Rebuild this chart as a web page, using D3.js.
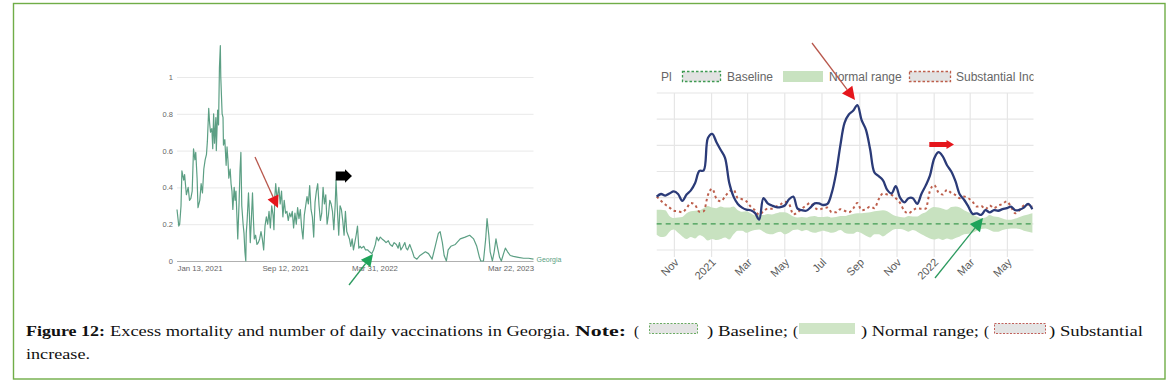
<!DOCTYPE html>
<html><head><meta charset="utf-8">
<script src="https://cdn.jsdelivr.net/npm/d3@7"></script>
<style>body{margin:0;background:#fff}svg{display:block}</style>
</head><body>
<svg id="c" width="1169" height="385"></svg>
<script>
// ---------- Left panel: daily vaccinations (per 100 people), Georgia ----------
const vacStart = "2021-01-13";
const vacEnd = "2023-03-22";
const vacDays = [0,4,6,9,11,15,17,21,25,28,31,34,37,40,42,45,47,51,54,57,60,63,66,68,71,73,75,78,80,82,84,87,88,91,93,95,97,98,101,103,104,107,110,112,114,116,119,121,123,125,128,130,132,134,136,139,141,143,145,148,150,152,154,155,157,160,162,164,166,169,171,173,176,179,182,185,188,191,194,197,200,203,206,209,212,215,217,219,221,224,226,228,231,234,237,240,243,246,249,252,255,258,261,264,267,270,273,276,279,282,285,288,291,294,297,300,303,306,309,312,315,318,321,324,327,330,333,336,339,342,345,348,351,354,356,359,362,365,368,371,374,377,380,383,386,389,392,395,398,401,404,407,410,413,418,422,427,431,436,440,444,447,451,455,459,464,468,473,477,482,486,491,495,498,501,506,510,513,516,521,524,527,531,537,544,556,563,571,578,585,589,594,598,603,607,613,623,634,645,655,664,671,677,680,686,691,694,698,701,706,710,714,717,722,726,731,735,740,746,753,764,776,787,798];
const vacValues = [0.28,0.19,0.20,0.30,0.49,0.44,0.47,0.36,0.40,0.33,0.34,0.38,0.61,0.55,0.59,0.45,0.29,0.33,0.42,0.37,0.50,0.55,0.58,0.65,0.83,0.75,0.70,0.72,0.61,0.80,0.64,0.78,0.60,0.82,0.74,1.05,1.17,1.00,0.80,0.78,0.63,0.66,0.52,0.62,0.55,0.45,0.50,0.42,0.38,0.28,0.40,0.33,0.38,0.25,0.12,0.32,0.49,0.59,0.30,0.20,0.15,0.05,0.00,0.15,0.22,0.37,0.26,0.10,0.20,0.37,0.23,0.12,0.14,0.09,0.10,0.12,0.16,0.12,0.06,0.19,0.24,0.20,0.27,0.18,0.30,0.25,0.17,0.35,0.42,0.33,0.37,0.40,0.31,0.38,0.24,0.33,0.26,0.27,0.22,0.26,0.24,0.27,0.18,0.26,0.20,0.29,0.23,0.28,0.18,0.12,0.25,0.30,0.35,0.31,0.41,0.28,0.24,0.13,0.32,0.38,0.42,0.30,0.22,0.26,0.40,0.31,0.36,0.20,0.25,0.33,0.31,0.27,0.17,0.30,0.44,0.28,0.14,0.30,0.28,0.22,0.14,0.27,0.16,0.14,0.12,0.08,0.12,0.06,0.10,0.14,0.19,0.07,0.08,0.07,0.08,0.06,0.06,0.05,0.04,0.06,0.09,0.13,0.11,0.13,0.12,0.11,0.10,0.11,0.09,0.08,0.10,0.09,0.07,0.10,0.06,0.08,0.10,0.07,0.06,0.09,0.07,0.05,0.02,0.01,0.03,0.05,0.04,0.01,0.08,0.15,0.16,0.10,0.03,0.00,0.06,0.08,0.09,0.12,0.13,0.14,0.12,0.08,0.02,0.00,0.00,0.12,0.23,0.14,0.05,0.00,0.05,0.12,0.08,0.02,0.00,0.04,0.07,0.05,0.03,0.025,0.02,0.015,0.015,0.01];
const vacYTicks = [0, 0.2, 0.4, 0.6, 0.8, 1];
const vacXTicks = ["2021-01-13", "2021-09-12", "2022-03-31", "2023-03-22"];
const vacXLabels = ["Jan 13, 2021", "Sep 12, 2021", "Mar 31, 2022", "Mar 22, 2023"];
const vacSeriesName = "Georgia";

// ---------- Right panel: weekly excess mortality (z-score style) ----------
const weekStart = "2020-10-03";
const mortality = [5.2,5.7,5.4,5.8,6.2,5.7,4.4,5.6,6.4,7.8,
10.1,10.2,16.4,17.2,15.6,14.1,12.6,7.8,5.2,3.8,
3.1,2.7,2.6,2.1,0.8,4.9,3.9,3.5,3.2,3.2,
3.5,4.7,5.2,2.9,2.6,2.5,3.1,3.9,3.9,3.6,
3.8,5.9,9.6,14.9,19.3,20.9,21.6,22.7,19.8,18.0,
14.2,9.8,9.1,8.3,6.5,5.8,7.2,5.0,4.1,4.9,
4.9,3.8,5.7,7.3,9.2,12.5,13.7,12.9,11.2,10.0,
8.1,5.6,4.6,3.3,1.9,2.0,1.7,2.6,2.2,2.6,
2.5,2.8,3.0,3.3,2.6,2.7,3.1,3.8,2.8];
const substantialIncrease = [5.2,4.4,3.7,3.1,2.5,2.4,2.2,3.0,4.0,3.6,
2.3,2.4,5.5,6.7,4.8,4.3,5.2,6.2,6.5,4.9,
4.7,4.3,3.3,2.6,1.7,2.4,2.9,2.9,3.3,3.7,
4.2,3.8,1.8,2.2,2.9,3.5,4.0,3.1,2.7,3.0,
3.1,2.2,2.2,2.8,2.5,2.2,2.9,4.0,2.6,2.8,
3.3,3.0,4.7,5.8,5.6,5.5,4.9,4.0,2.5,2.0,
2.6,3.0,2.9,2.9,6.3,7.4,6.0,5.6,6.5,5.9,
5.5,4.9,5.2,4.9,4.2,3.3,3.4,2.8,3.5,3.0,
3.5,3.8,4.3,3.2,2.0,2.6,3.5,3.7,3.3];
const normalUpper = [2.7,2.7,2.6,1.5,1.1,1.2,1.3,2.0,2.4,2.5,
2.6,3.0,3.4,3.1,3.0,3.3,3.1,3.1,3.3,2.6,
2.3,2.4,2.0,1.6,1.7,1.7,1.9,1.8,2.0,2.2,
2.2,1.9,1.4,1.2,1.3,1.2,1.4,1.5,1.3,1.3,
1.4,1.2,1.3,1.5,1.5,1.7,1.9,2.0,2.0,2.1,
2.2,2.4,2.5,2.6,2.4,1.9,1.5,1.3,1.2,1.5,
1.4,1.4,1.9,2.2,2.9,3.2,3.1,2.9,2.7,3.2,
3.3,3.1,2.6,2.2,1.8,1.4,1.1,1.2,1.7,1.4,
1.3,1.0,0.8,0.8,1.0,1.3,1.6,1.8,2.0];
const normalLower = [-2.1,-2.5,-2.4,-1.5,-1.1,-1.7,-2.4,-2.9,-2.5,-2.8,
-2.2,-2.5,-3.2,-2.9,-3.1,-2.9,-2.6,-3.0,-2.0,-1.3,
-1.3,-1.7,-1.4,-1.2,-1.1,-1.5,-1.9,-2.0,-1.7,-1.5,
-2.0,-1.7,-1.2,-1.1,-1.4,-1.2,-1.5,-1.7,-1.5,-1.3,
-1.5,-1.7,-1.5,-1.2,-1.7,-1.9,-1.9,-1.5,-1.8,-2.3,
-2.6,-2.0,-2.0,-2.4,-1.9,-1.3,-1.0,-1.0,-1.2,-1.5,
-1.2,-1.5,-2.0,-2.4,-2.8,-3.0,-2.8,-3.1,-2.8,-3.0,
-2.7,-2.4,-2.0,-1.9,-1.7,-1.3,-1.0,-0.9,-1.2,-1.5,
-1.5,-1.2,-1.0,-0.9,-0.9,-1.0,-1.3,-1.5,-1.7];
const baselineValue = 0;
const mortYTicks = [-5, 0, 5, 10, 15, 20, 25];
const legendItems = ["Baseline", "Normal range", "Substantial Increase"];
const legendLead = "Pl";

// ---------- Caption ----------
const captionBold1 = "Figure 12:";
const captionText1 = "Excess mortality and number of daily vaccinations in Georgia.";
const captionBold2 = "Note:";
const captionNotes = [") Baseline;", ") Normal range;", ") Substantial"];
const captionLine2 = "increase.";

// ======================================================================
const svg = d3.select("#c");
const parse = d3.utcParse("%Y-%m-%d");

// outer frame
svg.append("rect").attr("x",13.5).attr("y",3.5).attr("width",1151.5).attr("height",375.5)
  .attr("fill","none").attr("stroke","#70ad47").attr("stroke-width",1.4);

// ---------------- LEFT PANEL ----------------
const L = svg.append("g");
const lx = d3.scaleUtc().domain([parse(vacStart), parse(vacEnd)]).range([177, 533.5]);
const ly = d3.scaleLinear().domain([0, 1]).range([261, 77]);
const t0 = parse(vacStart);
const n = Math.min(vacDays.length, vacValues.length);
const vacData = d3.range(n).map(i => ({date: d3.utcDay.offset(t0, vacDays[i]), v: vacValues[i]}));

const lyAxis = L.append("g").attr("transform","translate(177,0)")
  .call(d3.axisLeft(ly).tickValues(vacYTicks).tickSize(-(533.5-177)).tickPadding(4)
    .tickFormat(d => d === 0 ? "0" : d === 1 ? "1" : d3.format(".1f")(d)));
lyAxis.select(".domain").remove();
lyAxis.selectAll(".tick line").attr("stroke", d => d === 0 ? "#b0b0b0" : "#e9e9e9").attr("stroke-width",1);
lyAxis.selectAll(".tick text").attr("font-family","Liberation Sans, Arial, sans-serif")
  .attr("font-size",7.5).attr("fill","#666").attr("x",-4);

const lxAxis = L.append("g").attr("transform","translate(0,261)")
  .call(d3.axisBottom(lx).tickValues(vacXTicks.map(parse)).tickSize(0).tickPadding(4)
    .tickFormat((d,i) => vacXLabels[i]));
lxAxis.select(".domain").remove();
lxAxis.selectAll(".tick text").attr("font-family","Liberation Sans, Arial, sans-serif")
  .attr("font-size",7.8).attr("fill","#666")
  .attr("text-anchor",(d,i) => i === 0 ? "start" : i === vacXTicks.length-1 ? "end" : "middle");

L.append("path").datum(vacData)
  .attr("d", d3.line().x(d => lx(d.date)).y(d => ly(d.v)))
  .attr("fill","none").attr("stroke","#5c9f84").attr("stroke-width",1.2).attr("stroke-linejoin","round");
L.append("text").attr("x", lx(vacData[n-1].date) + 3).attr("y", ly(vacData[n-1].v) + 2.5)
  .text(vacSeriesName).attr("font-family","Liberation Sans, Arial, sans-serif")
  .attr("font-size",7).attr("fill","#5c9f84");

// ---------------- RIGHT PANEL ----------------
const R = svg.append("g");
const ws = parse(weekStart);
const weeks = mortality.map((_, i) => d3.utcDay.offset(ws, 7*i));
const rx = d3.scaleUtc().domain([weeks[0], weeks[weeks.length-1]]).range([656.7, 1032.4]);
const ry = d3.scaleLinear().domain([-5, 25]).range([250, 93]);

svg.append("clipPath").attr("id","rclip").append("rect")
  .attr("x",650).attr("y",40).attr("width",383.5).attr("height",260);
const RC = R.append("g").attr("clip-path","url(#rclip)");

const monthTicks = d3.utcMonth.every(2).range(parse("2020-11-01"), parse("2022-06-02"));
RC.append("g").selectAll("line").data(mortYTicks).join("line")
  .attr("x1",656.7).attr("x2",1040).attr("y1",d=>ry(d)).attr("y2",d=>ry(d))
  .attr("stroke","#e6e6e6").attr("stroke-width",1.2);
RC.append("g").selectAll("line").data(monthTicks).join("line")
  .attr("x1",d=>rx(d)).attr("x2",d=>rx(d)).attr("y1",93).attr("y2",257)
  .attr("stroke","#e6e6e6").attr("stroke-width",1.2);

RC.append("path").datum(weeks)
  .attr("d", d3.area().curve(d3.curveMonotoneX).x(d => rx(d))
    .y0((d,i) => ry(normalLower[i])).y1((d,i) => ry(normalUpper[i])))
  .attr("fill","#c8e2c0");
RC.append("line").attr("x1",656.7).attr("x2",1040).attr("y1",ry(baselineValue)).attr("y2",ry(baselineValue))
  .attr("stroke","#3f9a52").attr("stroke-width",1.3).attr("stroke-dasharray","5,4");
RC.append("path").datum(weeks)
  .attr("d", d3.line().curve(d3.curveMonotoneX).x(d => rx(d)).y((d,i) => ry(substantialIncrease[i])))
  .attr("fill","none").attr("stroke","#bd5f4c").attr("stroke-width",2).attr("stroke-dasharray","2.5,3");
RC.append("path").datum(weeks)
  .attr("d", d3.line().curve(d3.curveCatmullRom.alpha(0.5)).x(d => rx(d)).y((d,i) => ry(mortality[i])))
  .attr("fill","none").attr("stroke","#2b3b78").attr("stroke-width",2.3).attr("stroke-linejoin","round");

const fmt = d => d.getUTCMonth() === 0 ? d3.utcFormat("%Y")(d) : d3.utcFormat("%b")(d);
R.append("g").selectAll("text").data(monthTicks).join("text")
  .attr("transform", d => `translate(${rx(d)+5},263) rotate(-45)`)
  .attr("text-anchor","end").attr("font-family","Liberation Sans, Arial, sans-serif")
  .attr("font-size",11).attr("fill","#5a5a5a").text(fmt);

const LG = RC.append("g").attr("font-family","Liberation Sans, Arial, sans-serif").attr("font-size",12).attr("fill","#666");
LG.append("text").attr("x",661).attr("y",80.5).text(legendLead);
LG.append("rect").attr("x",682.5).attr("y",71.5).attr("width",38).attr("height",10)
  .attr("fill","#e2e2e2").attr("stroke","#3f9a52").attr("stroke-width",1.3).attr("stroke-dasharray","2.5,2");
LG.append("text").attr("x",727).attr("y",80.5).text(legendItems[0]);
LG.append("rect").attr("x",783).attr("y",71).attr("width",40).attr("height",11).attr("fill","#c8e2c0");
LG.append("text").attr("x",829).attr("y",80.5).text(legendItems[1]);
LG.append("rect").attr("x",909.5).attr("y",71.5).attr("width",41).attr("height",10)
  .attr("fill","#e2e2e2").attr("stroke","#bd5f4c").attr("stroke-width",1.3).attr("stroke-dasharray","2.5,2");
LG.append("text").attr("x",956).attr("y",80.5).text(legendItems[2]);

// ---------------- ARROWS ----------------
function arrow(x1,y1,x2,y2,lineColor,headColor,headLen,headW,lw){
  const a = Math.atan2(y2-y1, x2-x1);
  const bx = x2 - headLen*Math.cos(a), by = y2 - headLen*Math.sin(a);
  svg.append("line").attr("x1",x1).attr("y1",y1).attr("x2",bx).attr("y2",by)
    .attr("stroke",lineColor).attr("stroke-width",lw);
  const px = Math.sin(a)*headW/2, py = -Math.cos(a)*headW/2;
  svg.append("path").attr("d",`M${x2},${y2}L${bx+px},${by+py}L${bx-px},${by-py}Z`).attr("fill",headColor);
}
function blockArrow(x0,x1,x2,cy,sh,hh,color){
  svg.append("path").attr("d",
    `M${x0},${cy-sh}L${x1},${cy-sh}L${x1},${cy-hh}L${x2},${cy}L${x1},${cy+hh}L${x1},${cy+sh}L${x0},${cy+sh}Z`)
    .attr("fill",color);
}
arrow(255,157,278,208,"#b8574c","#e5161c",12,12,1.3);
arrow(349,285,373,254,"#2c9a5f","#1fa35a",12,12,1.3);
blockArrow(335.7,345,352,176,4.5,6.8,"#000");
arrow(812,43,855,100,"#b8574c","#e5161c",13,13,1.3);
arrow(935,278,983,218,"#2c9a5f","#1fa35a",13,13,1.3);
blockArrow(929.3,946.5,954,144.5,2.4,4.6,"#e5161c");

// ---------------- CAPTION ----------------
const C = svg.append("g").attr("font-family","Liberation Serif, Times New Roman, serif").attr("font-size",15).attr("fill","#111");
function seg(txt,x,y,len,bold){
  C.append("text").attr("x",x).attr("y",y).attr("textLength",len).attr("lengthAdjust","spacingAndGlyphs")
    .attr("font-weight",bold?"bold":"normal").text(txt);
}
seg(captionBold1,26,336,79,true);
seg(captionText1,110,336,460,false);
seg(captionBold2,575,336,51,true);
seg("(",634,336,5,false);
C.append("rect").attr("x",649.5).attr("y",323.5).attr("width",48).attr("height",10)
  .attr("fill","#e4e4e4").attr("stroke","#6aab62").attr("stroke-width",1).attr("stroke-dasharray","2,1.5");
seg(captionNotes[0],707,336,81,false);
seg("(",793,336,5,false);
C.append("rect").attr("x",799).attr("y",323).attr("width",56).attr("height",11).attr("fill","#cfe5c6");
seg(captionNotes[1],861,336,118,false);
seg("(",984,336,5,false);
C.append("rect").attr("x",994.5).attr("y",323.5).attr("width",51).attr("height",10)
  .attr("fill","#e4e4e4").attr("stroke","#c0605a").attr("stroke-width",1).attr("stroke-dasharray","2,1.5");
seg(captionNotes[2],1049,336,94,false);
seg(captionLine2,26,359,64,false);
</script>
</body></html>
